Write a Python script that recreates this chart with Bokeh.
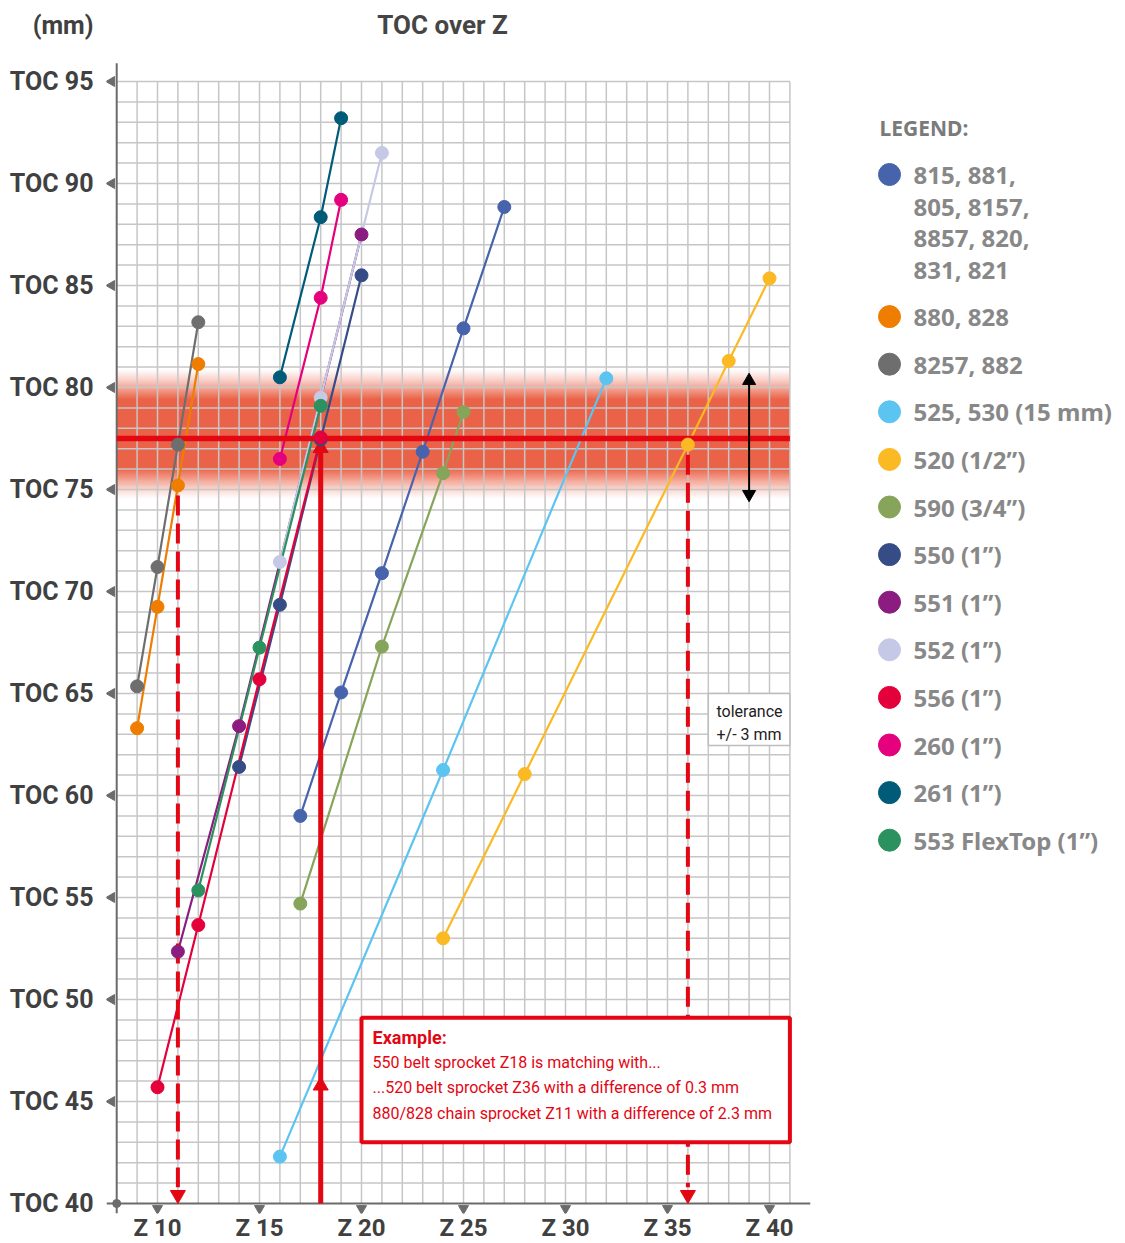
import numpy as np
from bokeh.plotting import figure
from bokeh.layouts import row
from bokeh.models import Range1d, FixedTicker
from bokeh.embed import file_html
from bokeh.resources import INLINE
from bokeh.core.properties import value

# ---------------- data ----------------
Z_TICKS = [10, 15, 20, 25, 30, 35, 40]
Z_TICK_LABELS = ["Z 10", "Z 15", "Z 20", "Z 25", "Z 30", "Z 35", "Z 40"]
TOC_TICKS = [40, 45, 50, 55, 60, 65, 70, 75, 80, 85, 90, 95]
TOC_TICK_LABELS = ["TOC 40", "TOC 45", "TOC 50", "TOC 55", "TOC 60", "TOC 65",
                   "TOC 70", "TOC 75", "TOC 80", "TOC 85", "TOC 90", "TOC 95"]

series_keys = ["815", "880", "8257", "525", "520", "590", "550", "551", "552",
               "556", "260", "261", "553"]
legend_labels = ["815, 881,\n805, 8157,\n8857, 820,\n831, 821", "880, 828",
                 "8257, 882", "525, 530 (15 mm)", "520 (1/2\u201d)",
                 "590 (3/4\u201d)", "550 (1\u201d)", "551 (1\u201d)",
                 "552 (1\u201d)", "556 (1\u201d)", "260 (1\u201d)",
                 "261 (1\u201d)", "553 FlexTop (1\u201d)"]
colors = ["#4663ac", "#ef7d00", "#6e6e6e", "#5bc4f1", "#fbb923", "#87a55a",
          "#364c87", "#8b1d80", "#c6c9e6", "#e4003a", "#e5007d", "#005b78",
          "#2b915f"]

z_815 = [17, 19, 21, 23, 25, 27]
toc_815 = [59.0, 65.05, 70.9, 76.85, 82.9, 88.85]
z_880 = [9, 10, 11, 12]
toc_880 = [63.3, 69.25, 75.2, 81.15]
z_8257 = [9, 10, 11, 12]
toc_8257 = [65.35, 71.2, 77.2, 83.2]
z_525 = [16, 24, 32]
toc_525 = [42.3, 61.25, 80.45]
z_520 = [24, 28, 36, 38, 40]
toc_520 = [53.0, 61.05, 77.2, 81.3, 85.35]
z_590 = [17, 21, 24, 25]
toc_590 = [54.7, 67.3, 75.8, 78.8]
z_550 = [14, 16, 18, 20]
toc_550 = [61.4, 69.35, 77.45, 85.5]
z_551 = [11, 14, 20]
toc_551 = [52.35, 63.4, 87.5]
z_552 = [16, 18, 21]
toc_552 = [71.45, 79.5, 91.5]
z_556 = [10, 12, 15, 18]
toc_556 = [45.7, 53.65, 65.7, 77.55]
z_260 = [16, 18, 19]
toc_260 = [76.5, 84.4, 89.2]
z_261 = [16, 18, 19]
toc_261 = [80.5, 88.35, 93.2]
z_553 = [12, 15, 18]
toc_553 = [55.35, 67.25, 79.1]

series_z = {"815": z_815, "880": z_880, "8257": z_8257, "525": z_525,
            "520": z_520, "590": z_590, "550": z_550, "551": z_551,
            "552": z_552, "556": z_556, "260": z_260, "261": z_261,
            "553": z_553}
series_toc = {"815": toc_815, "880": toc_880, "8257": toc_8257,
              "525": toc_525, "520": toc_520, "590": toc_590,
              "550": toc_550, "551": toc_551, "552": toc_552,
              "556": toc_556, "260": toc_260, "261": toc_261,
              "553": toc_553}
draw_order = ["815", "590", "525", "520", "8257", "880", "551", "552", "550",
              "553", "556", "260", "261"]

REF_TOC = 77.5          # 550 belt sprocket Z18
TOLERANCE = 3.0
EX_REF_Z = 18
EX_MATCH_Z = [11, 36]   # 880/828 Z11 and 520 Z36
EX_MATCH_TOC = [75.2, 77.2]

TITLE = "TOC over Z"
UNIT = "(mm)"
UNIT_TOC = 97.75
LEGEND_TITLE = "LEGEND:"
TOL_TEXT = ["tolerance", "+/- 3 mm"]
EXAMPLE_TITLE = "Example:"
EXAMPLE_LINES = ["550 belt sprocket Z18 is matching with...",
                 "...520 belt sprocket Z36 with a difference of 0.3 mm",
                 "880/828 chain sprocket Z11 with a difference of 2.3 mm"]

# ---------------- geometry ----------------
SX, SY = 20.4, 20.4
BT, BB, BL, BR = 2, 29, 106, 8
FW, FH = 704, 1211
X0 = 7.5
Y1 = 95 + (81 - BT) / SY
Y0 = Y1 - FH / SY
ZMIN, ZMAX = 8, 41
TMIN, TMAX = 40, 95
RED = "#e30613"
AX = "#6b6b6b"
GRID = "#c6c6c6"

p = figure(frame_width=FW, frame_height=FH,
           x_range=Range1d(X0, X0 + FW / SX), y_range=Range1d(Y0, Y1),
           min_border_left=BL, min_border_right=BR, min_border_top=BT,
           min_border_bottom=BB, toolbar_location=None, output_backend="svg")
p.outline_line_color = None
p.grid.visible = False
p.background_fill_color = "white"

for ax in (p.xaxis[0], p.yaxis[0]):
    ax.axis_line_color = None
    ax.major_tick_line_color = None
    ax.minor_tick_line_color = None
    ax.major_tick_out = 0
    ax.major_tick_in = 0
    ax.minor_tick_out = 0
    ax.major_label_text_font = "Roboto"
    ax.major_label_text_font_style = "bold"
    ax.major_label_text_color = "#404040"
p.xaxis.major_label_text_font_size = "24px"
p.yaxis.major_label_text_font_size = "25px"
p.xaxis.ticker = FixedTicker(ticks=Z_TICKS)
p.xaxis.major_label_overrides = {t: l for t, l in zip(Z_TICKS, Z_TICK_LABELS)}
p.xaxis.major_label_standoff = 0
y_ticks = TOC_TICKS + [UNIT_TOC]
y_labels = TOC_TICK_LABELS + [UNIT]
p.yaxis.ticker = FixedTicker(ticks=y_ticks)
p.yaxis.major_label_overrides = {t: l for t, l in zip(y_ticks, y_labels)}
p.yaxis.major_label_standoff = 13

# tolerance band (vertical gradient)
n = 400
BAND_C = REF_TOC + 0.2
half = TOLERANCE + 0.4
ts = np.linspace(BAND_C - half, BAND_C + half, n)
d = np.abs(ts - BAND_C)
alpha = np.clip((3.2 - d) / 1.5, 0, 1) ** 1.2 * 0.92
img = np.zeros((n, 2), dtype=np.uint32)
view = img.view(dtype=np.uint8).reshape((n, 2, 4))
view[:, :, 0] = 0xe8
view[:, :, 1] = 0x55
view[:, :, 2] = 0x38
view[:, :, 3] = (alpha * 255).astype(np.uint8)[:, None]
p.image_rgba(image=[img], x=ZMIN, y=BAND_C - half, dw=ZMAX - ZMIN, dh=2 * half)

# grid
gz = list(range(ZMIN + 1, ZMAX + 1))
p.segment(x0=gz, x1=gz, y0=TMIN, y1=TMAX, line_color=GRID, line_width=1.5)
gt = list(range(TMIN + 1, TMAX + 1))
p.segment(x0=ZMIN, x1=ZMAX, y0=gt, y1=gt, line_color=GRID, line_width=1.5)

# axes lines and tick markers
p.segment(x0=ZMIN, x1=ZMIN, y0=Y0, y1=TMAX + 0.9, line_color=AX, line_width=2)
p.segment(x0=X0, x1=X0 + FW / SX, y0=TMIN, y1=TMIN, line_color=AX, line_width=2)
p.scatter(x=ZMIN - 5 / SX, y=TOC_TICKS[1:], marker="triangle", size=10,
          angle=np.pi / 2, color=AX)
p.scatter(x=Z_TICKS, y=TMIN - 5 / SY, marker="triangle", size=10,
          angle=np.pi, color=AX)
p.scatter(x=[ZMIN], y=[TMIN], size=8, color=AX)

# title
p.text(x=[23.97], y=[UNIT_TOC], text=[TITLE], text_font=value("Roboto"),
       text_font_style="bold", text_font_size="26px", text_color="#454545",
       text_align="center", text_baseline="middle")

# series lines
for k in draw_order:
    c = colors[series_keys.index(k)]
    p.line(series_z[k], series_toc[k], line_color=c, line_width=2.2)

# reference line
p.segment(x0=ZMIN, x1=ZMAX, y0=REF_TOC, y1=REF_TOC, line_color=RED, line_width=5.5)

# example arrows
HEAD = 15
hoff = 0.577 * HEAD / SY
p.segment(x0=EX_REF_Z, x1=EX_REF_Z, y0=TMIN, y1=REF_TOC - 0.5,
          line_color=RED, line_width=5)
p.scatter(x=[EX_REF_Z, EX_REF_Z], y=[REF_TOC - 0.05 - hoff, 46.2 - hoff],
          marker="triangle", size=HEAD, color=RED)
for z, t in zip(EX_MATCH_Z, EX_MATCH_TOC):
    p.segment(x0=z, x1=z, y0=t - 0.5, y1=TMIN + 0.8, line_color=RED,
              line_width=4, line_dash="20 8")
p.scatter(x=EX_MATCH_Z, y=TMIN + hoff, marker="triangle", size=HEAD,
          angle=np.pi, color=RED)

# series points
for k in draw_order:
    c = colors[series_keys.index(k)]
    p.scatter(series_z[k], series_toc[k], size=13, color=c)

# tolerance arrow
AZ = 39
ah = 13
aoff = 0.577 * ah / SY
top_tip = REF_TOC + TOLERANCE + 0.2
bot_tip = REF_TOC - TOLERANCE - 0.1
p.segment(x0=AZ, x1=AZ, y0=bot_tip + 0.3, y1=top_tip - 0.3,
          line_color="black", line_width=2)
p.scatter(x=[AZ, AZ], y=[top_tip - aoff, bot_tip + aoff],
          marker="triangle", size=ah, angle=[0, np.pi], color="black")

# tolerance note
p.quad(left=37, right=ZMAX, bottom=62.45, top=65.0, fill_color="white",
       line_color="#bdbdbd", line_width=1.5)
p.text(x=[37.4, 37.4], y=[64.12, 62.99], text=TOL_TEXT, text_font=value("Roboto"),
       text_font_size="16px", text_color="#222222", text_baseline="middle")

# example box
p.quad(left=20, right=ZMAX, bottom=43.0, top=49.1, fill_color="white",
       line_color=RED, line_width=4)
p.text(x=[20.54], y=[48.14], text=[EXAMPLE_TITLE], text_font=value("Roboto"),
       text_font_style="bold", text_font_size="18px", text_color=RED,
       text_baseline="middle")
p.text(x=[20.54] * 3, y=[46.91, 45.69, 44.41], text=EXAMPLE_LINES,
       text_font=value("Roboto"), text_font_size="16px", text_color=RED,
       text_baseline="middle")

# ---------------- legend panel (screen-pixel coordinates) ----------------
PW = BL + FW + BR
QW = 300
q = figure(frame_width=QW, frame_height=FH,
           x_range=Range1d(PW, PW + QW), y_range=Range1d(BT + FH, BT),
           min_border_left=0, min_border_right=0, min_border_top=BT,
           min_border_bottom=BB, toolbar_location=None, output_backend="svg",
           x_axis_type=None, y_axis_type=None)
q.outline_line_color = None
q.grid.visible = False
q.text(x=[879], y=[127], text=[LEGEND_TITLE], text_font=value("Noto Sans"),
       text_font_style="bold", text_font_size="21px", text_color="#7a7a7a",
       text_baseline="middle")
y = 174.0
dot_y, tx, ty = [], [], []
for lab in legend_labels:
    dot_y.append(y)
    lines = lab.split("\n")
    for i, ln in enumerate(lines):
        tx.append(ln)
        ty.append(y + i * 31.5)
    y = y + (len(lines) - 1) * 31.5 + 47.6
q.scatter(x=889, y=dot_y, size=22, color=colors)
q.text(x=913, y=ty, text=tx, text_font=value("Noto Sans"), text_font_style="bold",
       text_font_size="24px", text_color="#888888", text_baseline="middle")

layout = row(p, q)
open("out.html", "w").write(file_html(layout, INLINE))
